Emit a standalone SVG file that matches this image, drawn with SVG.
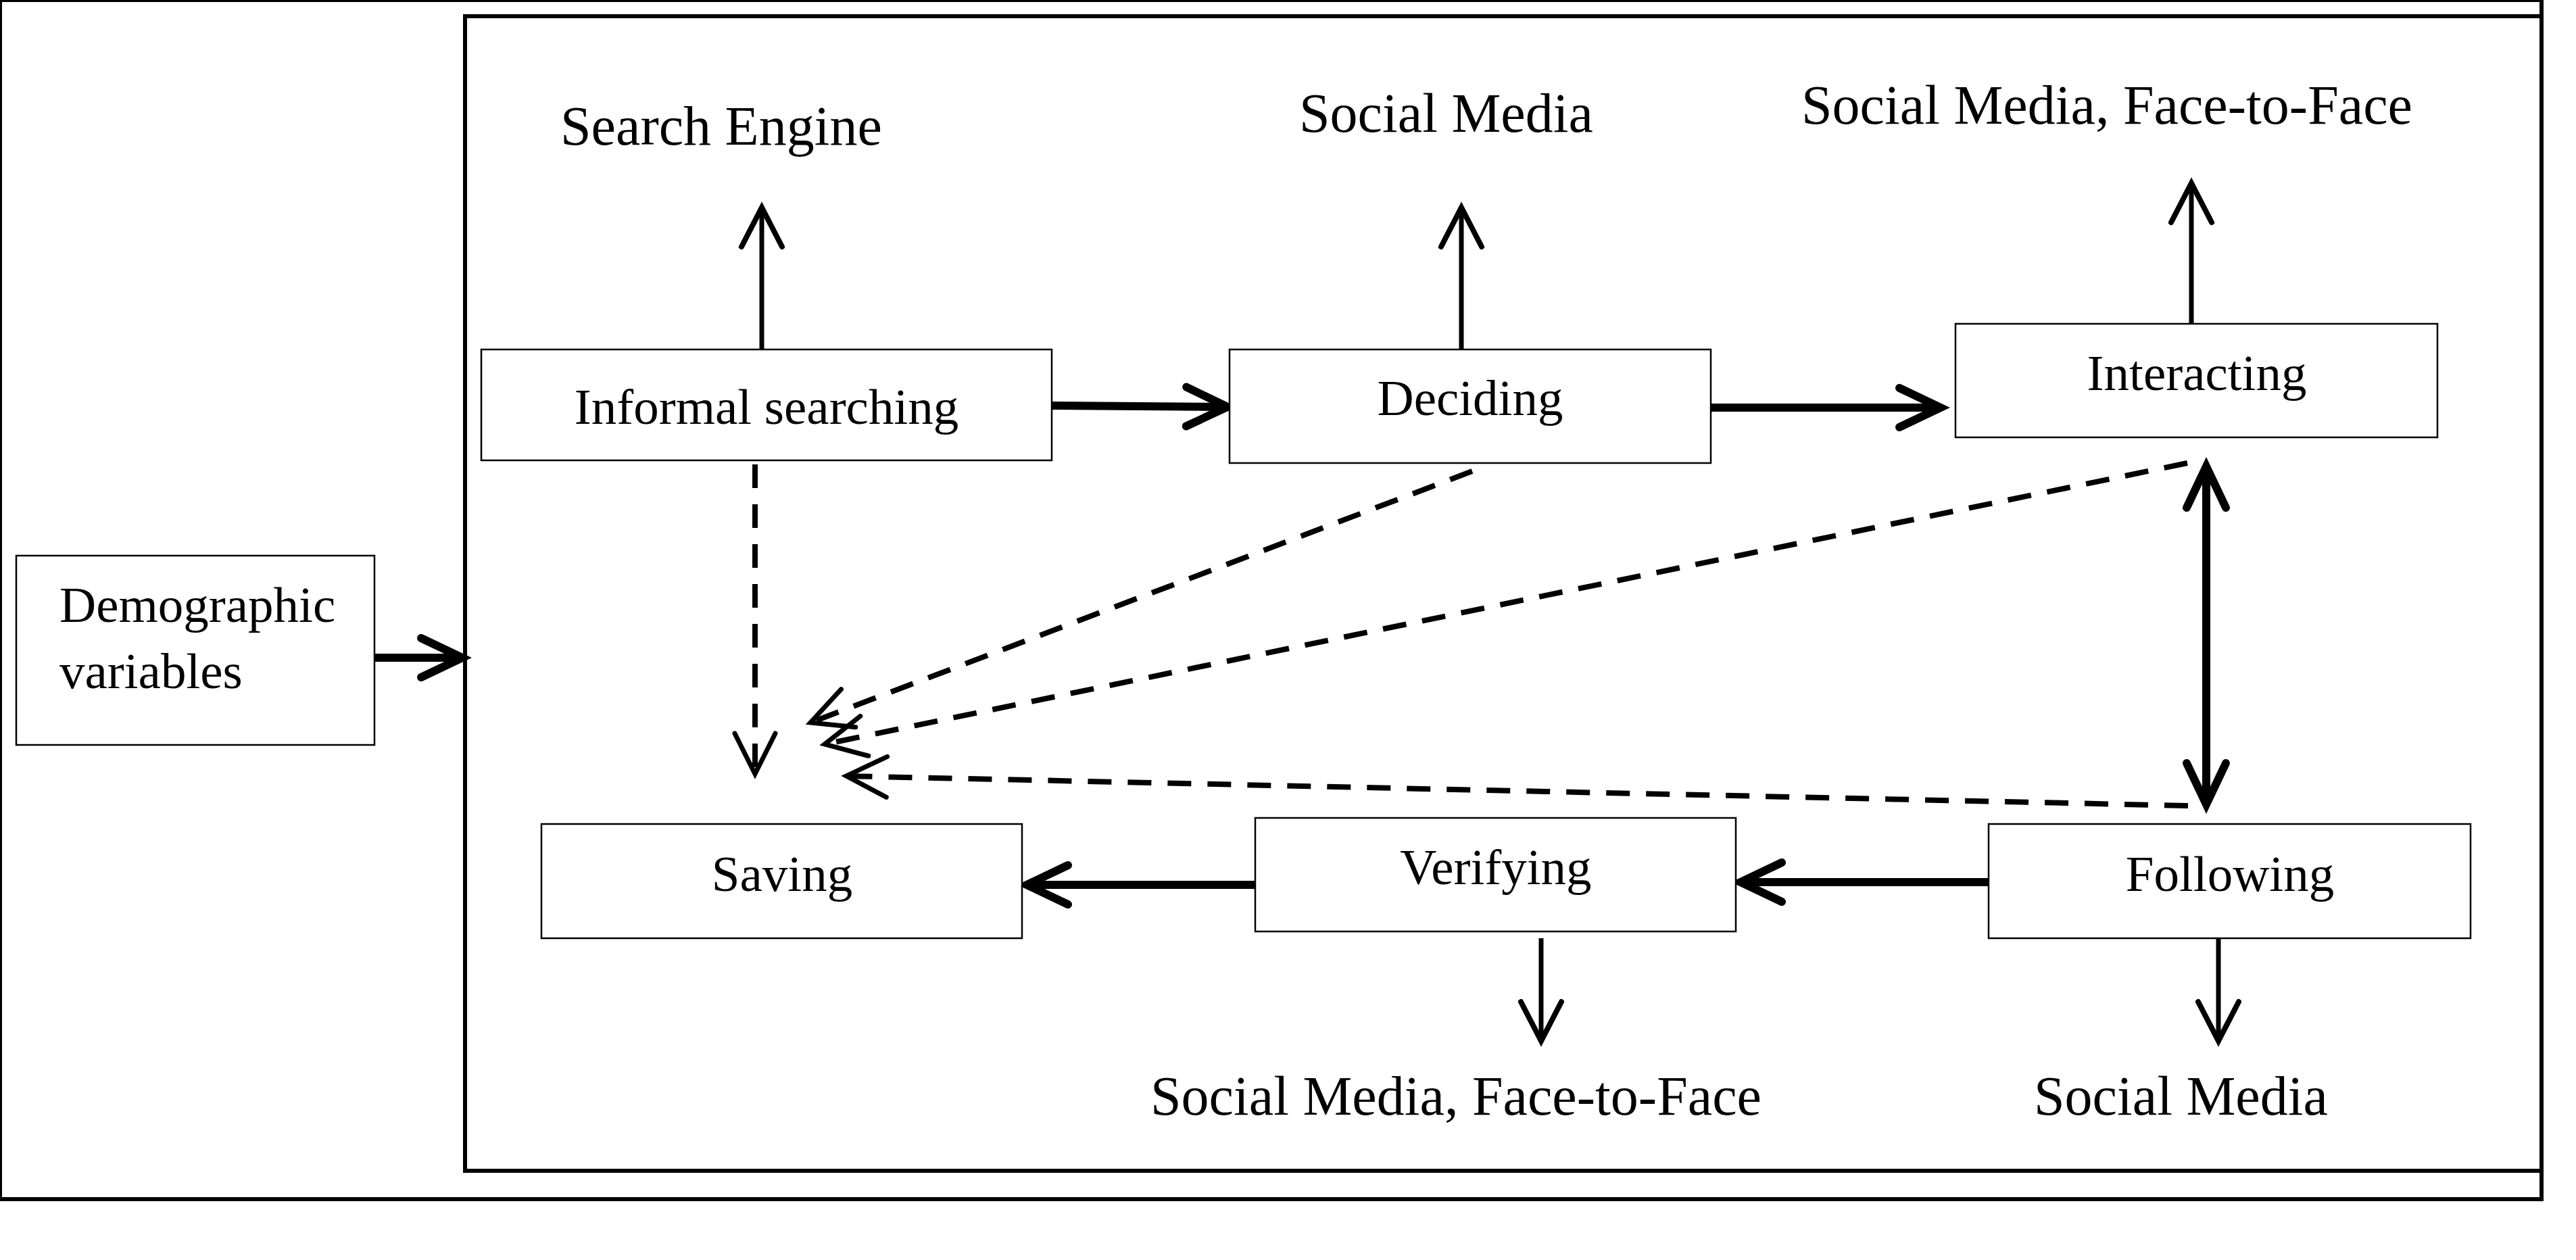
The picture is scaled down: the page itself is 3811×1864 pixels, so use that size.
<svg xmlns="http://www.w3.org/2000/svg" width="3811" height="1864" viewBox="0 0 3811 1864">
<style>
.frame{fill:none;stroke:#000;stroke-width:6}
.box{fill:#fff;stroke:#000;stroke-width:2.5}
.nt{font-family:"Liberation Serif","Times New Roman",serif;font-size:75px;fill:#000}
.lt{font-family:"Liberation Serif","Times New Roman",serif;font-size:82px;fill:#000}
.thick{fill:none;stroke:#000;stroke-width:12}
.thin{fill:none;stroke:#000;stroke-width:7}
.dash{fill:none;stroke:#000;stroke-width:8;stroke-dasharray:35 24}
</style>
<defs>
<marker id="hThick" markerUnits="userSpaceOnUse" markerWidth="1" markerHeight="1" refX="0" refY="0" orient="auto" overflow="visible">
<path d="M-61,-29 L0,0 L-61,29" fill="none" stroke="#000" stroke-width="12" stroke-linecap="round" stroke-linejoin="miter"/>
</marker>
<marker id="hThickS" markerUnits="userSpaceOnUse" markerWidth="1" markerHeight="1" refX="0" refY="0" orient="auto-start-reverse" overflow="visible">
<path d="M-61,-29 L0,0 L-61,29" fill="none" stroke="#000" stroke-width="12" stroke-linecap="round" stroke-linejoin="miter"/>
</marker>
<marker id="hThin" markerUnits="userSpaceOnUse" markerWidth="1" markerHeight="1" refX="0" refY="0" orient="auto" overflow="visible">
<path d="M-58,-30 L0,0 L-58,30" fill="none" stroke="#000" stroke-width="8" stroke-linecap="round"/>
</marker>
<marker id="hDash" markerUnits="userSpaceOnUse" markerWidth="1" markerHeight="1" refX="0" refY="0" orient="auto" overflow="visible">
<path d="M-60,-30 L0,0 L-60,30" fill="none" stroke="#000" stroke-width="7" stroke-linecap="round" stroke-dasharray="none"/>
</marker>
</defs>
<rect width="3811" height="1864" fill="#fff"/>
<g id="frames">
<rect class="frame" x="0" y="0" width="3760" height="1774"/>
<rect class="frame" x="688" y="24" width="3072" height="1708"/>
</g>
<g id="connectors">
<line class="thick" x1="554" y1="973" x2="684" y2="973" marker-end="url(#hThick)"/>
<line class="thick" x1="1556" y1="600" x2="1816" y2="602" marker-end="url(#hThick)"/>
<line class="thick" x1="2531" y1="603" x2="2871" y2="603" marker-end="url(#hThick)"/>
<line class="thick" x1="3264" y1="690" x2="3264" y2="1190" marker-start="url(#hThickS)" marker-end="url(#hThick)"/>
<line class="thick" x1="2942" y1="1305" x2="2575" y2="1305" marker-end="url(#hThick)"/>
<line class="thick" x1="1856" y1="1309" x2="1519" y2="1309" marker-end="url(#hThick)"/>
<line class="thin" x1="1127" y1="517" x2="1127" y2="307" marker-end="url(#hThin)"/>
<line class="thin" x1="2162" y1="517" x2="2162" y2="307" marker-end="url(#hThin)"/>
<line class="thin" x1="3242" y1="478" x2="3242" y2="271" marker-end="url(#hThin)"/>
<line class="thin" x1="2280" y1="1388" x2="2280" y2="1540" marker-end="url(#hThin)"/>
<line class="thin" x1="3282" y1="1388" x2="3282" y2="1540" marker-end="url(#hThin)"/>
<line class="dash" x1="1117" y1="687" x2="1117" y2="1145" marker-end="url(#hDash)"/>
<line class="dash" x1="2178" y1="697" x2="1199" y2="1069" marker-end="url(#hDash)"/>
<line class="dash" x1="3236" y1="685" x2="1220" y2="1101" marker-end="url(#hDash)"/>
<line class="dash" x1="3237" y1="1192" x2="1252" y2="1148" marker-end="url(#hDash)"/>
</g>
<g id="demographic">
<rect class="box" x="24" y="822" width="530" height="280"/>
<text class="nt" x="88" y="920">Demographic</text>
<text class="nt" x="88" y="1018">variables</text>
</g>
<g id="informal-searching">
<rect class="box" x="712" y="517" width="844" height="164"/>
<text class="nt" x="1134" y="627" text-anchor="middle">Informal searching</text>
</g>
<g id="deciding">
<rect class="box" x="1819" y="517" width="712" height="168"/>
<text class="nt" x="2175" y="614" text-anchor="middle">Deciding</text>
</g>
<g id="interacting">
<rect class="box" x="2893" y="479" width="713" height="168"/>
<text class="nt" x="3250" y="577" text-anchor="middle">Interacting</text>
</g>
<g id="saving">
<rect class="box" x="801" y="1219" width="711" height="169"/>
<text class="nt" x="1157" y="1318" text-anchor="middle">Saving</text>
</g>
<g id="verifying">
<rect class="box" x="1857" y="1210" width="711" height="168"/>
<text class="nt" x="2213" y="1308" text-anchor="middle">Verifying</text>
</g>
<g id="following">
<rect class="box" x="2942" y="1219" width="713" height="169"/>
<text class="nt" x="3299" y="1318" text-anchor="middle">Following</text>
</g>
<g id="labels">
<text class="lt" x="829" y="214">Search Engine</text>
<text class="lt" x="1922" y="195">Social Media</text>
<text class="lt" x="2665" y="183">Social Media, Face-to-Face</text>
<text class="lt" x="1702" y="1649">Social Media, Face-to-Face</text>
<text class="lt" x="3009" y="1649">Social Media</text>
</g>
</svg>
